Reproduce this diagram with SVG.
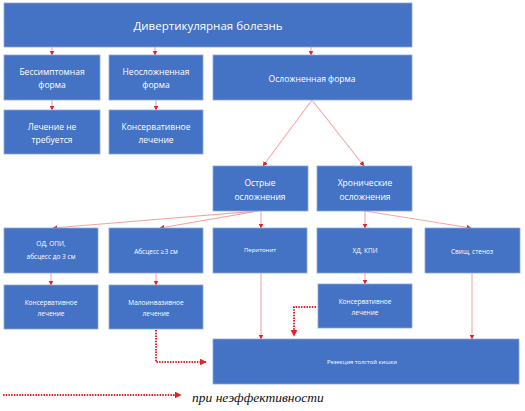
<svg xmlns="http://www.w3.org/2000/svg" width="525" height="411" viewBox="0 0 525 411">
<style>
.box{fill:#4472C4;stroke:#8FA6D8;stroke-width:0.8}
.t{fill:#fff;font-family:"Open Sans","Liberation Sans",sans-serif;text-anchor:middle;dominant-baseline:central}
.c{fill:none;stroke:#F2A8A8;stroke-width:1.1;marker-end:url(#ah)}
.d{fill:none;stroke:#E8202A;stroke-width:2;stroke-dasharray:1.5 1.2}
</style>
<defs>
<marker id="ah" viewBox="0 0 10 10" refX="9" refY="5" markerWidth="5" markerHeight="5" markerUnits="userSpaceOnUse" orient="auto"><path d="M0,0L10,5L0,10z" fill="#E8202A"/></marker>
<marker id="ah2" viewBox="0 0 10 10" refX="9" refY="5" markerWidth="7" markerHeight="7" markerUnits="userSpaceOnUse" orient="auto"><path d="M0,0L10,5L0,10z" fill="#E8202A"/></marker>
</defs>
<g id="connectors">
<path class="c" d="M52,47V55"/>
<path class="c" d="M155,47V55"/>
<path class="c" d="M311,47V55"/>
<path class="c" d="M52,100V110"/>
<path class="c" d="M156,100V110"/>
<path class="c" d="M312,100L263,166"/>
<path class="c" d="M312,100L364,166"/>
<path class="c" d="M258,211L53,228"/>
<path class="c" d="M258,211L160,228"/>
<path class="c" d="M261,211V228"/>
<path class="c" d="M365,211V228"/>
<path class="c" d="M365,211L471,228"/>
<path class="c" d="M51,273V285"/>
<path class="c" d="M156,273V285"/>
<path class="c" d="M365,273V284"/>
<path class="c" d="M261,273V339"/>
<path class="c" d="M472,273V339"/>
<path class="d" d="M156,330V362H206" marker-end="url(#ah2)"/>
<path class="d" d="M316,307H294V336" marker-end="url(#ah2)"/>
<path class="d" d="M3,395H181" marker-end="url(#ah2)"/>
</g>
<g id="n1"><rect class="box" x="4" y="3" width="408" height="44"/><text class="t" x="208" y="25" font-size="11.5">Дивертикулярная болезнь</text></g>
<g id="n2"><rect class="box" x="4" y="55" width="96" height="45"/><text class="t" x="52" y="71" font-size="8.5">Бессимптомная</text><text class="t" x="52" y="84" font-size="8.5">форма</text></g>
<g id="n3"><rect class="box" x="109" y="55" width="94" height="45"/><text class="t" x="156" y="71" font-size="8.5">Неосложненная</text><text class="t" x="156" y="84" font-size="8.5">форма</text></g>
<g id="n4"><rect class="box" x="213" y="55" width="199" height="45"/><text class="t" x="312" y="78" font-size="8.5">Осложненная форма</text></g>
<g id="n5"><rect class="box" x="4" y="110" width="96" height="44"/><text class="t" x="52" y="126" font-size="8.5">Лечение не</text><text class="t" x="52" y="139" font-size="8.5">требуется</text></g>
<g id="n6"><rect class="box" x="109" y="110" width="94" height="44"/><text class="t" x="156" y="126" font-size="8.5">Консервативное</text><text class="t" x="156" y="139" font-size="8.5">лечение</text></g>
<g id="n7"><rect class="box" x="213" y="166" width="95" height="45"/><text class="t" x="260" y="182" font-size="8.5">Острые</text><text class="t" x="260" y="196" font-size="8.5">осложнения</text></g>
<g id="n8"><rect class="box" x="317" y="166" width="95" height="45"/><text class="t" x="365" y="182" font-size="8.5">Хронические</text><text class="t" x="365" y="196" font-size="8.5">осложнения</text></g>
<g id="n9"><rect class="box" x="4" y="228" width="94" height="45"/><text class="t" x="51" y="243" font-size="6.5">ОД, ОПИ,</text><text class="t" x="51" y="256" font-size="6.5">абсцесс до 3 см</text></g>
<g id="n10"><rect class="box" x="109" y="228" width="94" height="45"/><text class="t" x="156" y="251" font-size="6.5">Абсцесс ≥3 см</text></g>
<g id="n11"><rect class="box" x="213" y="228" width="94" height="45"/><text class="t" x="260" y="250" font-size="6">Перитонит</text></g>
<g id="n12"><rect class="box" x="317" y="228" width="95" height="45"/><text class="t" x="365" y="250" font-size="6.5">ХД, КПИ</text></g>
<g id="n13"><rect class="box" x="425" y="228" width="95" height="45"/><text class="t" x="472" y="251" font-size="6.5">Свищ, стеноз</text></g>
<g id="n14"><rect class="box" x="4" y="285" width="94" height="44"/><text class="t" x="51" y="302" font-size="6.5">Консервативное</text><text class="t" x="51" y="313" font-size="6.5">лечение</text></g>
<g id="n15"><rect class="box" x="109" y="285" width="94" height="44"/><text class="t" x="156" y="302" font-size="6.5">Малоинвазивное</text><text class="t" x="156" y="313" font-size="6.5">лечение</text></g>
<g id="n16"><rect class="box" x="318" y="284" width="94" height="44"/><text class="t" x="365" y="301" font-size="6.5">Консервативное</text><text class="t" x="365" y="312" font-size="6.5">лечение</text></g>
<g id="n17"><rect class="box" x="213" y="339" width="306" height="45"/><text class="t" x="362" y="362" font-size="5.8">Резекция толстой кишки</text></g>
<text x="192" y="402" font-family="Liberation Serif,serif" font-style="italic" font-size="13.5" fill="#111">при неэффективности</text>
</svg>
